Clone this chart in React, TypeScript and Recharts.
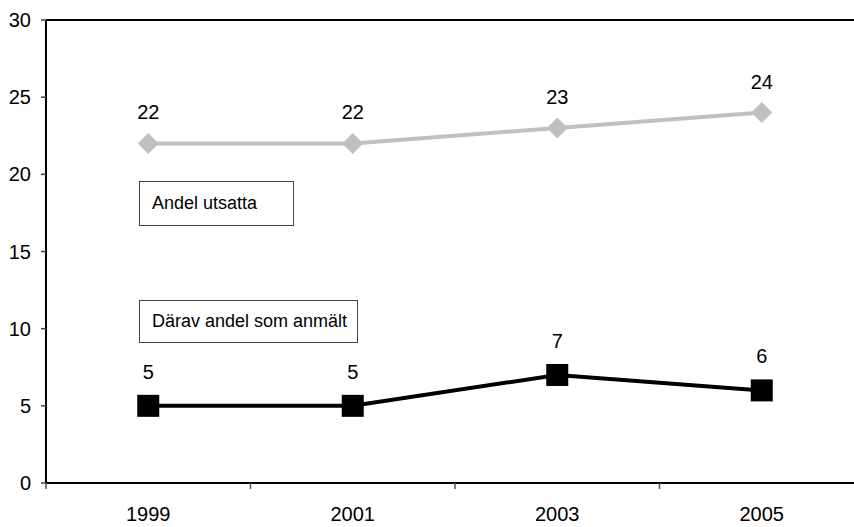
import { ComposedChart, Line, XAxis, YAxis, ReferenceLine, LabelList } from "recharts";

const years = ["1999", "2001", "2003", "2005"];
const andelUtsatta = [22, 22, 23, 24];
const andelAnmalt = [5, 5, 7, 6];
const yTicks = [0, 5, 10, 15, 20, 25, 30];

const data = years.map((year, i) => ({
  year,
  utsatta: andelUtsatta[i],
  anmalt: andelAnmalt[i],
}));

const FONT = '"Liberation Sans", Arial, Helvetica, sans-serif';
const X_TICK_MARGIN = 24;

// year label centred in its band, tick mark on the band's left (and last right) edge
const YearTick = (props: any) => {
  const { x, y, payload, index, visibleTicksCount } = props;
  const half = payload?.offset ?? 0;
  const axisY = y - X_TICK_MARGIN;
  const isLast = index === (visibleTicksCount ?? years.length) - 1;
  return (
    <g>
      <line x1={x - half} x2={x - half} y1={axisY} y2={axisY + 6} stroke="#555" strokeWidth={1.5} />
      {isLast && (
        <line x1={x + half} x2={x + half} y1={axisY} y2={axisY + 6} stroke="#555" strokeWidth={1.5} />
      )}
      <text x={x} y={y} dy="0.71em" textAnchor="middle" fill="#000" fontSize={20}>
        {payload.value}
      </text>
    </g>
  );
};

const Diamond = (props: any) => {
  const { cx, cy, index } = props;
  if (cx == null || cy == null) return null;
  const r = 10.5;
  return (
    <polygon
      key={`d-${index}`}
      points={`${cx},${cy - r} ${cx + r},${cy} ${cx},${cy + r} ${cx - r},${cy}`}
      fill="#c0c0c0"
    />
  );
};

const Square = (props: any) => {
  const { cx, cy, index } = props;
  if (cx == null || cy == null) return null;
  const s = 22;
  return <rect key={`s-${index}`} x={cx - s / 2} y={cy - s / 2} width={s} height={s} fill="#000" />;
};

const boxStyle = {
  position: "absolute" as const,
  left: 139,
  border: "1px solid #444",
  background: "#fff",
  fontFamily: FONT,
  fontSize: 18,
  color: "#000",
  boxSizing: "border-box" as const,
  paddingLeft: 12,
  display: "flex",
  alignItems: "center",
  whiteSpace: "nowrap" as const,
};

export default function App() {
  return (
    <div
      style={{
        position: "absolute",
        left: 0,
        top: 0,
        width: 854,
        height: 527,
        overflow: "hidden",
        background: "#fff",
      }}
    >
      <ComposedChart
        width={900}
        height={527}
        data={data}
        margin={{ top: 20, right: 36, left: 0, bottom: 0 }}
        style={{ fontFamily: FONT }}
      >
        <XAxis
          dataKey="year"
          scale="band"
          height={44}
          tickSize={0}
          tickMargin={X_TICK_MARGIN}
          tickLine={false}
          axisLine={{ stroke: "#000", strokeWidth: 2 }}
          tick={<YearTick />}
          interval={0}
        />
        <YAxis
          domain={[0, 30]}
          ticks={yTicks}
          width={46}
          tickSize={5}
          tickMargin={10}
          axisLine={{ stroke: "#000", strokeWidth: 2 }}
          tickLine={{ stroke: "#444", strokeWidth: 1.5 }}
          tick={{ fill: "#000", fontSize: 20 }}
        />
        <ReferenceLine y={30} stroke="#000" strokeWidth={2} />
        <Line
          dataKey="utsatta"
          stroke="#c0c0c0"
          strokeWidth={4}
          dot={Diamond}
          activeDot={false}
          isAnimationActive={false}
        >
          <LabelList dataKey="utsatta" position="top" offset={24} fill="#000" fontSize={20} />
        </Line>
        <Line
          dataKey="anmalt"
          stroke="#000"
          strokeWidth={4}
          dot={Square}
          activeDot={false}
          isAnimationActive={false}
        >
          <LabelList dataKey="anmalt" position="top" offset={27} fill="#000" fontSize={20} />
        </Line>
      </ComposedChart>
      <div style={{ ...boxStyle, top: 181, width: 155, height: 45 }}>Andel utsatta</div>
      <div style={{ ...boxStyle, top: 300, width: 219, height: 43 }}>Därav andel som anmält</div>
    </div>
  );
}
